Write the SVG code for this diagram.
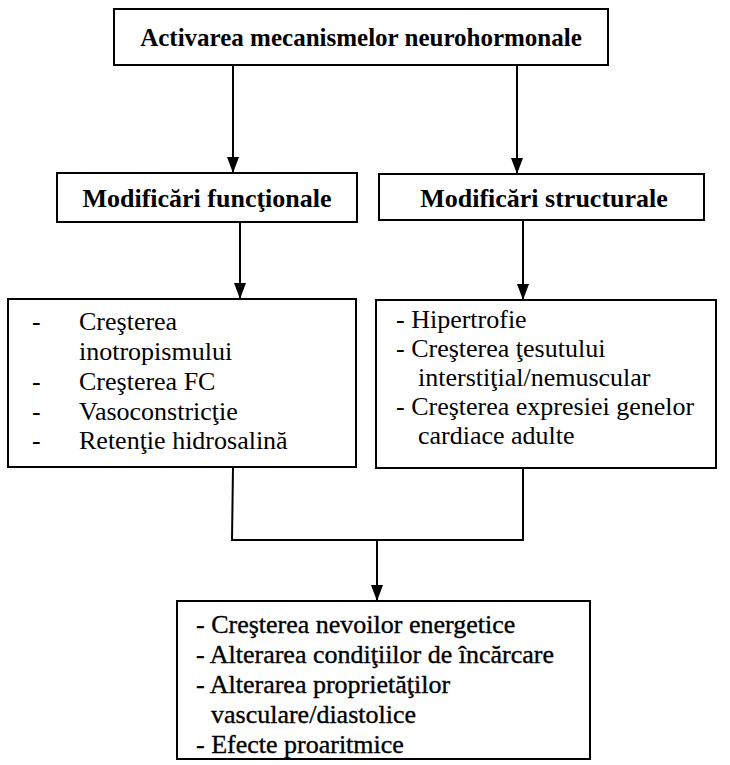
<svg xmlns="http://www.w3.org/2000/svg" width="730" height="765" viewBox="0 0 730 765">
<style>
.box{fill:#fff;stroke:#000;stroke-width:2}
.t{fill:#000;font-family:"Liberation Serif",Tinos,"Noto Serif","DejaVu Serif","Times New Roman",Times,serif}
.b{font-weight:bold;font-size:25px}
.m{font-weight:bold;font-size:26px}
.r{font-size:26px}
.bt{font-size:26px;stroke:#000;stroke-width:0.35}
.ln{fill:none;stroke:#000;stroke-width:2}
</style>
<defs>
<marker id="a2" markerWidth="16" markerHeight="12" refX="16" refY="6" orient="auto" markerUnits="userSpaceOnUse" viewBox="0 0 16 12">
<path d="M0,0 L16,6 L0,12 Z" fill="#000"/>
</marker>
</defs>
<g id="connectors">
<line class="ln" x1="233" y1="65" x2="233" y2="173" marker-end="url(#a2)"/>
<line class="ln" x1="517" y1="65" x2="517" y2="174" marker-end="url(#a2)"/>
<line class="ln" x1="240" y1="222" x2="240" y2="299" marker-end="url(#a2)"/>
<line class="ln" x1="523" y1="220" x2="523" y2="300" marker-end="url(#a2)"/>
<polyline class="ln" points="233,467 232,540 523,540 523,468"/>
<line class="ln" x1="377" y1="540" x2="377" y2="601" marker-end="url(#a2)"/>
</g>
<g id="n-top">
<rect class="box" x="114" y="9" width="494" height="56"/>
<text class="t b" x="361" y="46" text-anchor="middle">Activarea mecanismelor neurohormonale</text>
</g>
<g id="n-func">
<rect class="box" x="57" y="173" width="300" height="49"/>
<text class="t m" x="207" y="207" text-anchor="middle">Modificări funcţionale</text>
</g>
<g id="n-struct">
<rect class="box" x="379" y="174" width="325" height="46"/>
<text class="t m" x="544" y="207" text-anchor="middle">Modificări structurale</text>
</g>
<g id="n-func-list">
<rect class="box" x="8" y="299" width="348" height="168"/>
<text class="t r" x="32" y="330">-</text>
<text class="t r" x="79" y="330">Creşterea</text>
<text class="t r" x="79" y="360">inotropismului</text>
<text class="t r" x="32" y="390">-</text>
<text class="t r" x="79" y="390">Creşterea FC</text>
<text class="t r" x="32" y="420">-</text>
<text class="t r" x="79" y="420">Vasoconstricţie</text>
<text class="t r" x="32" y="449">-</text>
<text class="t r" x="79" y="449">Retenţie hidrosalină</text>
</g>
<g id="n-struct-list">
<rect class="box" x="376" y="300" width="340" height="168"/>
<text class="t r" x="396" y="328">- Hipertrofie</text>
<text class="t r" x="396" y="357">- Creşterea ţesutului</text>
<text class="t r" x="418" y="386">interstiţial/nemuscular</text>
<text class="t r" x="396" y="415">- Creşterea expresiei genelor</text>
<text class="t r" x="418" y="444">cardiace adulte</text>
</g>
<g id="n-effects">
<rect class="box" x="177" y="601" width="413" height="158"/>
<text class="t bt" x="196" y="633">- Creşterea nevoilor energetice</text>
<text class="t bt" x="196" y="663">- Alterarea condiţiilor de încărcare</text>
<text class="t bt" x="196" y="693">- Alterarea proprietăţilor</text>
<text class="t bt" x="211" y="723">vasculare/diastolice</text>
<text class="t bt" x="196" y="753">- Efecte proaritmice</text>
</g>
</svg>
